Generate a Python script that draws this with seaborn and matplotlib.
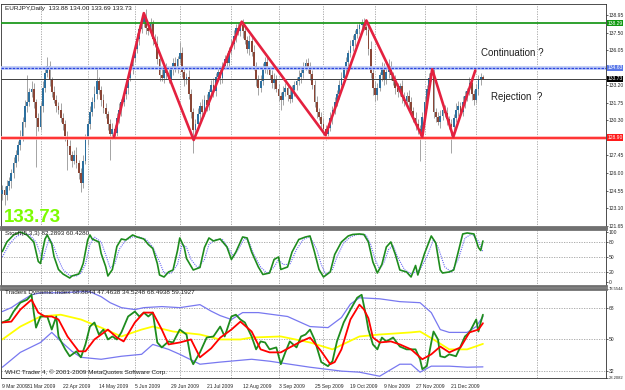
import numpy as np
import pandas as pd
import matplotlib
matplotlib.use('Agg')
import matplotlib.pyplot as plt
import seaborn as sns

# EURJPY daily bars, bar 0 = 16 Mar 2009
first_open = 124.3
close = [
    124.6, 124.2, 124.9, 125.3, 126.0, 126.8, 127.5, 128.3, 128.9, 130.2,
    131.5, 131.8, 132.6, 132.9, 131.8, 130.5, 129.8, 131.5, 133.0, 134.2,
    134.8, 133.6, 132.6, 132.0, 131.5, 131.2, 130.5, 130.0, 129.0, 128.2,
    127.5, 127.0, 127.5, 126.8, 126.0, 125.2, 127.0, 128.8, 130.0, 131.0,
    131.8, 132.5, 133.5, 132.8, 132.0, 131.3, 130.8, 130.0, 129.2, 129.6,
    129.3, 130.5, 131.2, 131.8, 132.5, 133.0, 133.8, 134.5, 135.4, 136.2,
    137.0, 137.8, 138.4, 138.8, 137.9, 137.6, 138.2, 137.0, 136.6, 135.3,
    134.0, 133.8, 134.6, 134.2, 133.7, 134.5, 135.0, 134.6, 135.3, 135.8,
    134.3, 133.6, 133.9, 132.5, 131.0, 129.5, 130.0, 130.8, 131.5, 131.0,
    132.0, 131.6, 132.6, 133.2, 132.7, 133.9, 134.3, 133.8, 134.8, 135.3,
    135.0, 136.0, 136.6, 137.2, 137.9, 137.6, 138.1, 137.6, 136.9, 136.2,
    136.8, 135.9, 134.8, 133.6, 133.0, 133.5, 134.7, 135.1, 134.5, 134.0,
    133.4, 133.7, 132.9, 132.3, 132.0, 132.6, 133.0, 132.4, 132.1, 132.8,
    133.2, 133.5, 133.9, 134.2, 134.7, 135.0, 134.6, 134.1, 133.2, 131.8,
    131.0, 130.6, 130.0, 129.6, 129.2, 129.7, 130.5, 131.2, 131.8, 132.5,
    133.2, 133.8, 134.5, 135.1, 135.8, 136.4, 136.9, 137.4, 137.8, 138.1,
    138.3, 138.0, 137.7, 136.2, 134.2, 133.0, 132.4, 133.0, 134.0, 134.6,
    133.6, 134.3, 134.8, 134.0, 133.5, 133.0, 132.6, 133.1, 132.2, 131.9,
    132.3, 131.8, 131.1, 130.5, 130.0, 129.6, 129.3, 130.6, 131.8, 132.9,
    133.8, 134.2, 131.0, 130.6, 130.2, 130.7, 131.2, 130.9, 130.4, 130.0,
    129.8, 130.5, 131.2, 131.5, 131.0, 131.8, 132.3, 132.7, 133.4, 132.5,
    132.0, 132.9, 133.6, 133.88, 133.73,
]
wick_up = [
    0.4, 0.3, 0.5, 0.4, 0.3, 0.5, 0.4, 0.3, 0.6, 0.4,
    0.5, 2.2, 0.4, 0.6, 0.5, 0.3, 0.4, 0.3, 0.5, 0.4,
    0.7, 0.4, 0.3, 0.5, 0.4, 0.3, 0.5, 0.4, 0.3, 0.4,
    0.5, 0.3, 0.4, 0.6, 0.3, 0.4, 0.5, 0.4, 0.3, 0.5,
    0.4, 0.6, 1.1, 0.4, 0.3, 0.5, 0.4, 0.3, 0.4, 0.5,
    0.3, 0.4, 0.5, 0.3, 0.4, 0.5, 0.3, 0.4, 0.5, 0.4,
    0.5, 0.3, 0.4, 0.3, 0.6, 0.4, 0.5, 0.3, 0.4, 0.6,
    0.4, 0.5, 0.3, 0.4, 0.5, 0.3, 0.4, 0.5, 0.3, 0.9,
    0.5, 0.4, 0.3, 0.5, 0.4, 0.3, 0.4, 0.5, 0.3, 0.6,
    0.4, 0.5, 0.3, 0.4, 0.6, 0.3, 0.4, 0.5, 0.3, 0.4,
    0.5, 0.3, 0.4, 0.5, 0.3, 0.4, 0.3, 0.5, 0.4, 0.3,
    0.5, 0.4, 0.6, 0.3, 0.4, 0.5, 0.3, 0.4, 0.5, 0.3,
    0.4, 0.5, 0.3, 0.4, 0.3, 0.5, 0.4, 0.3, 0.5, 0.4,
    0.3, 0.4, 0.5, 0.3, 0.4, 0.3, 0.4, 0.5, 0.3, 0.4,
    0.5, 0.3, 0.4, 0.5, 0.3, 0.4, 0.5, 0.3, 0.4, 0.3,
    0.4, 0.5, 0.3, 0.4, 0.3, 0.5, 0.4, 0.3, 0.4, 0.3,
    0.3, 0.4, 0.5, 0.4, 0.6, 0.3, 0.5, 0.4, 0.3, 0.5,
    0.4, 0.3, 0.5, 0.4, 0.3, 0.5, 0.4, 0.3, 0.5, 0.4,
    0.3, 0.5, 0.4, 0.3, 0.5, 0.4, 0.3, 0.4, 0.5, 0.3,
    0.4, 0.4, 0.5, 0.3, 0.4, 0.5, 0.3, 0.4, 0.5, 0.3,
    0.4, 0.3, 0.5, 0.4, 0.3, 0.5, 0.4, 0.3, 0.5, 0.4,
    0.3, 0.4, 0.4, 0.3, 0.12,
]
wick_dn = [
    0.5, 0.8, 0.4, 0.3, 0.5, 0.4, 0.3, 0.5, 0.4, 0.3,
    0.4, 0.5, 0.3, 0.4, 0.5, 4.0, 0.4, 0.3, 0.5, 0.4,
    0.3, 0.5, 0.4, 0.3, 0.5, 0.4, 0.3, 0.5, 0.4, 2.0,
    0.4, 0.5, 0.3, 0.4, 0.5, 0.8, 0.4, 0.3, 0.5, 0.4,
    0.3, 0.5, 0.4, 0.3, 0.5, 0.4, 0.3, 0.5, 2.1, 0.4,
    0.5, 0.3, 0.4, 0.5, 0.3, 0.4, 0.5, 0.3, 0.4, 0.3,
    0.4, 0.5, 0.3, 0.4, 0.5, 0.3, 0.4, 0.5, 0.3, 0.4,
    0.5, 0.3, 0.4, 0.5, 0.3, 0.4, 0.5, 0.3, 0.4, 0.3,
    0.4, 0.5, 0.3, 0.4, 0.5, 1.9, 0.4, 0.3, 0.5, 0.4,
    0.3, 0.5, 0.4, 0.3, 0.5, 0.4, 0.3, 0.5, 0.4, 0.3,
    0.4, 0.5, 0.3, 0.4, 0.5, 0.3, 0.4, 0.5, 0.3, 0.4,
    0.5, 0.3, 0.4, 0.5, 0.6, 0.4, 0.3, 0.5, 0.4, 0.3,
    0.4, 0.5, 0.3, 0.4, 0.8, 0.4, 0.3, 0.5, 0.4, 0.3,
    0.5, 0.4, 0.3, 0.5, 0.4, 0.3, 0.4, 0.5, 0.3, 0.4,
    0.5, 0.3, 0.4, 0.5, 0.5, 0.4, 0.3, 0.5, 0.4, 0.3,
    0.4, 0.5, 0.3, 0.4, 0.5, 0.3, 0.4, 0.5, 0.3, 0.4,
    0.5, 0.3, 0.4, 0.5, 0.4, 0.6, 0.5, 0.4, 0.3, 0.5,
    0.4, 0.3, 0.5, 0.4, 0.3, 0.5, 0.4, 0.3, 0.5, 0.4,
    0.3, 0.5, 0.4, 0.3, 0.5, 0.4, 2.3, 0.4, 0.3, 0.5,
    0.4, 0.3, 0.5, 0.4, 0.3, 0.5, 0.4, 0.3, 0.5, 0.4,
    2.2, 0.4, 0.3, 0.5, 0.4, 0.3, 0.5, 0.4, 0.3, 0.5,
    0.4, 0.3, 0.5, 0.4, 0.04,
]

# hand drawn zigzag (bar, price)
zigzag = [(49.7, 128.95), (63, 139.1), (85.2, 128.7), (106.6, 138.4), (143.9, 129.1),
          (162.1, 138.5), (187, 128.95), (191.4, 134.5), (200.8, 128.95), (210.6, 134.4)]

resistance = 138.29
breakout = 134.63
last_price = 133.73
support = 128.90

price_ticks = [138.95, 137.50, 136.05, 133.20, 131.75, 130.30, 127.45, 126.00, 124.55, 123.10, 121.65]
date_labels = ['9 Mar 2009', '31 Mar 2009', '22 Apr 2009', '14 May 2009', '5 Jun 2009', '29 Jun 2009',
               '21 Jul 2009', '12 Aug 2009', '3 Sep 2009', '25 Sep 2009', '19 Oct 2009', '9 Nov 2009',
               '27 Nov 2009', '21 Dec 2009']
grid_bars = [17, 38, 59, 79, 102, 123, 143, 166, 188, 211, 238]

# stochastic (bar, value)
stoch_k = [(0, 61), (2, 80), (5, 94), (8, 100), (11, 94), (14, 80), (16, 41), (17, 37), (18, 65), (19, 86),
           (20, 94), (22, 76), (23, 51), (25, 25), (27, 16), (30, 8), (31, 12), (34, 16), (35, 25), (36, 37),
           (38, 84), (39, 94), (40, 86), (43, 80), (44, 57), (46, 31), (47, 12), (49, 25), (51, 71), (53, 86),
           (55, 84), (58, 94), (60, 90), (63, 86), (65, 75), (67, 67), (69, 37), (70, 14), (72, 10), (74, 20),
           (76, 24), (78, 63), (79, 88), (81, 69), (82, 47), (85, 24), (88, 29), (90, 69), (92, 88), (94, 82),
           (97, 86), (100, 70), (102, 45), (104, 60), (107, 90), (109, 88), (111, 60), (114, 30), (116, 15),
           (119, 18), (121, 45), (123, 50), (124, 25), (127, 30), (129, 60), (132, 85), (135, 90), (137, 92),
           (139, 60), (141, 25), (143, 10), (146, 20), (148, 55), (151, 80), (154, 92), (156, 95), (159, 96),
           (161, 95), (163, 80), (165, 40), (167, 18), (169, 35), (171, 70), (173, 80), (175, 55), (177, 24),
           (180, 20), (182, 10), (184, 33), (185, 14), (188, 57), (191, 92), (193, 78), (195, 24), (196, 18),
           (199, 20), (201, 24), (205, 96), (207, 98), (210, 96), (212, 69), (213, 63), (214, 82)]
stoch_d = [(0, 50), (3, 75), (6, 90), (9, 97), (12, 95), (15, 80), (17, 55), (18, 45), (20, 75), (21, 88),
           (23, 70), (25, 45), (27, 25), (30, 13), (33, 12), (35, 18), (37, 35), (39, 75), (41, 90), (44, 80),
           (46, 55), (48, 28), (50, 35), (52, 65), (55, 84), (58, 90), (61, 90), (64, 85), (67, 70), (70, 40),
           (72, 18), (75, 17), (78, 35), (80, 75), (82, 70), (84, 45), (87, 28), (90, 45), (92, 75), (95, 85),
           (98, 85), (101, 65), (103, 50), (105, 65), (108, 88), (110, 78), (112, 55), (115, 30), (118, 17),
           (121, 30), (123, 45), (125, 35), (128, 35), (131, 65), (134, 85), (137, 91), (140, 65), (142, 35),
           (144, 15), (147, 25), (149, 50), (152, 78), (155, 90), (158, 95), (162, 94), (164, 75), (166, 45),
           (168, 25), (170, 40), (172, 65), (174, 73), (176, 50), (179, 25), (182, 16), (184, 20), (186, 25),
           (189, 50), (192, 85), (194, 70), (197, 30), (200, 20), (203, 45), (206, 88), (209, 96), (212, 82),
           (214, 60)]

# traders dynamic index (bar, value)
tdi_rsi = [(0, 59.6), (3, 61.3), (5, 65.8), (8, 70.8), (11, 72.5), (13, 75.3), (14, 65.2), (15, 56.7),
           (17, 63), (20, 63), (22, 55.6), (24, 63), (25, 51.7), (28, 44.4), (30, 40.5), (33, 43.3),
           (35, 39.9), (37, 47.2), (39, 57.3), (41, 59.6), (43, 52.8), (45, 55.6), (47, 50), (49, 51.7),
           (51, 50), (53, 54), (56, 63), (59, 65.8), (61, 63), (63, 65.2), (65, 63), (67, 65.2), (69, 48.3),
           (71, 45.5), (74, 48.9), (76, 48.3), (79, 55.6), (82, 52.8), (84, 38.8), (85, 36), (88, 42.7),
           (91, 51.1), (94, 51.7), (97, 57.3), (99, 51.7), (102, 63), (104, 64), (106, 61.3), (108, 59.6),
           (111, 51.7), (113, 44.4), (115, 48.9), (117, 48.3), (119, 44.4), (122, 45.5), (124, 36),
           (126, 42.7), (128, 48.9), (131, 45.5), (133, 51.7), (135, 52.8), (137, 55.6), (139, 50),
           (142, 37.2), (145, 34.9), (147, 37.7), (149, 48.9), (152, 59.6), (155, 66.9), (158, 73.6),
           (160, 75.3), (162, 63), (163, 55.6), (165, 47.2), (167, 44.4), (169, 51.1), (171, 48.9),
           (174, 51.1), (177, 46), (180, 44.4), (184, 44.4), (186, 38.8), (187, 33.2), (189, 34.9),
           (191, 48.3), (192, 54.5), (194, 50), (195, 40.5), (197, 39.9), (199, 41.6), (202, 40.5),
           (204, 46), (206, 51.7), (208, 54), (211, 61.3), (212, 54.5), (213, 59.6), (214, 64)]
tdi_signal = [(0, 59.6), (4, 60.1), (8, 66.9), (13, 72.5), (16, 65.2), (19, 63), (22, 63), (25, 61.3),
              (29, 51.7), (34, 43.3), (37, 43.3), (41, 50), (47, 55.6), (51, 51.1), (54, 48.9), (59, 59.6),
              (63, 65.2), (67, 65.2), (71, 55.6), (74, 47.2), (79, 48.3), (84, 50), (88, 39.9), (93, 45),
              (97, 51), (102, 55.6), (106, 60.1), (111, 54.5), (115, 44.4), (119, 42.7), (124, 42.7),
              (128, 45.5), (133, 48.9), (137, 51.1), (142, 43.3), (146, 36), (148, 37.2), (151, 44.4),
              (155, 61.3), (159, 69.7), (161, 67), (163, 62), (165, 51.1), (168, 48.3), (173, 48.9),
              (177, 47.2), (182, 44.4), (187, 38.8), (191, 41.6), (195, 46), (199, 42.7), (204, 45.5),
              (208, 54), (212, 55.6), (214, 59.2)]
tdi_base = [(0, 50), (8, 57.3), (17, 63), (26, 64), (35, 61.3), (44, 56.7), (53, 51.7), (62, 55.6),
            (67, 57.3), (76, 54.5), (88, 52.8), (97, 50), (106, 50), (111, 51.1), (124, 51.7), (137, 48.3),
            (147, 44.4), (159, 51.7), (168, 52.8), (182, 54), (186, 54.5), (192, 50), (199, 44.4),
            (207, 44.4), (214, 47.5)]
tdi_upper = [(0, 65.8), (4, 68), (8, 71.4), (13, 75.3), (17, 76.4), (26, 76.4), (35, 77), (39, 77),
             (44, 74.2), (48, 70.8), (53, 68), (59, 66.9), (63, 68), (71, 68.6), (79, 68), (88, 69.7),
             (93, 66), (97, 63.5), (102, 61.3), (107, 65.2), (114, 65.2), (127, 63), (137, 57.3),
             (145, 56.7), (151, 62.4), (155, 70), (159, 73.6), (168, 73), (177, 71.4), (186, 70.8),
             (191, 65.2), (195, 55.6), (199, 54), (207, 54), (211, 57.3), (214, 63)]
tdi_lower = [(0, 34.3), (8, 42.7), (17, 48.3), (22, 54), (26, 49), (31, 43.3), (35, 39.9), (44, 38.8),
             (53, 40.5), (62, 41.6), (67, 47.2), (74, 44.4), (79, 41.6), (88, 36), (97, 37.2), (111, 38.8),
             (119, 37.7), (128, 36), (137, 34.3), (151, 32.1), (159, 31.5), (168, 29.2), (177, 36),
             (182, 36), (186, 31.5), (191, 34.9), (199, 34.9), (207, 34.3), (214, 34.5)]

sns.set_style('white')
plt.rcParams['font.family'] = ['Liberation Sans', 'DejaVu Sans']

fig = plt.figure(figsize=(6.25, 3.9), dpi=100)
ax1 = fig.add_axes([0.0016, 0.418, 0.968, 0.5718])
ax2 = fig.add_axes([0.0016, 0.2667, 0.968, 0.1462], sharex=ax1)
ax3 = fig.add_axes([0.0016, 0.0308, 0.968, 0.2282], sharex=ax1)

grid_col = '#a0a0a0'
fs = 4.6     # panel captions
fs_ax = 3.6  # axis numbers
for ax in (ax1, ax2, ax3):
    for b in grid_bars:
        ax.axvline(b, color=grid_col, ls=(0, (1.5, 1.5)), lw=0.6, zorder=0)
    ax.yaxis.tick_right()
    ax.tick_params(axis='y', length=1.5, width=0.5, labelsize=fs_ax, pad=0.5)
    ax.tick_params(axis='x', length=0, labelbottom=False)
    for s in ax.spines.values():
        s.set_color('#303030')
        s.set_linewidth(0.6)
for ax in (ax2, ax3):
    ax.spines['top'].set_color('#707070')
    ax.spines['top'].set_linewidth(2)
ax1.spines['bottom'].set_color('#707070')
ax1.spines['bottom'].set_linewidth(2)
ax2.spines['bottom'].set_color('#707070')
ax2.spines['bottom'].set_linewidth(2)

# candles
o = np.array([first_open] + close[:-1])
c = np.array(close)
hi = np.maximum(o, c) + np.array(wick_up)
lo = np.minimum(o, c) - np.array(wick_dn)
x = np.arange(len(c))
bull = c >= o
ax1.vlines(x, lo, hi, color='#a4a4a4', lw=0.7, zorder=2)
ax1.bar(x[bull], (c - o)[bull], bottom=o[bull], width=0.8, color='#2c6f9e', lw=0, zorder=3)
ax1.bar(x[~bull], (o - c)[~bull], bottom=c[~bull], width=0.8, color='#8a4636', lw=0, zorder=3)

ax1.axhline(resistance, color='#1f9a1f', lw=1.3, zorder=4)
ax1.axhline(breakout, color='#b9c6f5', lw=2.6, zorder=4)
ax1.axhline(breakout, color='#2a45e0', lw=0.9, ls=(0, (2, 1)), zorder=4)
ax1.axhline(last_price, color='#404040', lw=0.7, zorder=4)
ax1.axhline(support, color='#ffb3b3', lw=2.6, zorder=4)
ax1.axhline(support, color='#ff1010', lw=1.1, zorder=4)
zx, zy = zip(*zigzag)
ax1.plot(zx, zy, color='#e4213f', lw=1.9, zorder=5)

ax1.set_xlim(-0.6, 268.8)
ax1.set_ylim(121.57, 139.85)
ax1.set_yticks(price_ticks)
ax1.set_yticklabels([f'{v:.2f}' for v in price_ticks])

tr = ax1.get_yaxis_transform()
for val, fc in [(resistance, '#119911'), (breakout, '#5a78e8'), (last_price, '#000000'), (support, '#ff1a1a')]:
    ax1.text(1.002, val, f'{val:.2f}', transform=tr, fontsize=fs_ax, color='white', va='center', ha='left',
             bbox=dict(boxstyle='square,pad=0.12', fc=fc, ec='none'), zorder=10, clip_on=False)

ax1.text(0.006, 0.992, 'EURJPY,Daily  133.88 134.00 133.69 133.73', transform=ax1.transAxes,
         fontsize=fs, va='top', ha='left', color='#202020')
ax1.text(0.004, 0.022, '133.73', transform=ax1.transAxes, fontsize=13.5, fontweight='bold',
         color='#7cfc00', va='baseline', ha='left')
ax1.text(213.2, 135.84, 'Continuation ?', fontsize=7, va='center', ha='left', color='#202020')
ax1.text(217.7, 132.23, 'Rejection  ?', fontsize=7, va='center', ha='left', color='#202020')

# stochastic
for lvl in (80, 50, 20):
    ax2.axhline(lvl, color=grid_col, ls=(0, (1.5, 1.5)), lw=0.6, zorder=0)
kx, ky = zip(*stoch_k)
dx, dy = zip(*stoch_d)
sns.lineplot(x=list(dx), y=list(dy), ax=ax2, color='#6a6af5', lw=0.8, ls=(0, (1, 1)))
sns.lineplot(x=list(kx), y=list(ky), ax=ax2, color='#1e8c1e', lw=1.2)
ax2.set_ylim(-8, 106)
ax2.set_yticks([100, 80, 50, 20, 0])
ax2.set_ylabel('')
ax2.text(0.006, 0.97, 'Stoch(5,3,3) 82.2893 60.4280', transform=ax2.transAxes, fontsize=fs,
         va='top', ha='left', color='#202020')

# traders dynamic index
for lvl in (68, 50, 32):
    ax3.axhline(lvl, color=grid_col, ls=(0, (1.5, 1.5)), lw=0.6, zorder=0)
for series, col, lw in [(tdi_upper, '#7878f0', 0.9), (tdi_lower, '#7878f0', 0.9), (tdi_base, '#ffff00', 1.3),
                        (tdi_rsi, '#1e8c1e', 1.3), (tdi_signal, '#ff0000', 1.3)]:
    sx, sy = zip(*series)
    sns.lineplot(x=list(sx), y=list(sy), ax=ax3, color=col, lw=lw)
ax3.set_ylim(28.2082, 78.5544)
ax3.set_yticks([78.5544, 68, 50, 32, 28.2082])
ax3.set_yticklabels(['78.5544', '68', '50', '32', '28.2082'])
for lab in (ax3.get_yticklabels()[0], ax3.get_yticklabels()[-1]):
    lab.set_fontsize(3.0)
ax3.set_ylabel('')
ax3.text(0.006, 0.985, 'Traders Dynamic Index 68.8844 47.4638 34.5248 68.4938 59.1927',
         transform=ax3.transAxes, fontsize=fs, va='top', ha='left', color='#202020')
ax3.text(0.006, 0.03, 'WHC Trader 4, \u00a9 2001-2009 MetaQuotes Software Corp.', transform=ax3.transAxes,
         fontsize=fs, va='bottom', ha='left', color='#202020')

dates = pd.bdate_range('2009-03-16', periods=len(close))
tick_pos = [int(dates.searchsorted(pd.Timestamp(d))) for d in date_labels]
ax3.set_xticks(tick_pos)
ax3.set_xticklabels(date_labels, ha='left')
ax3.tick_params(axis='x', length=3, width=0.5, labelsize=fs_ax, pad=1, labelbottom=True)
ax1.set_xlim(-0.6, 268.8)

fig.savefig('out.png', dpi=100)
